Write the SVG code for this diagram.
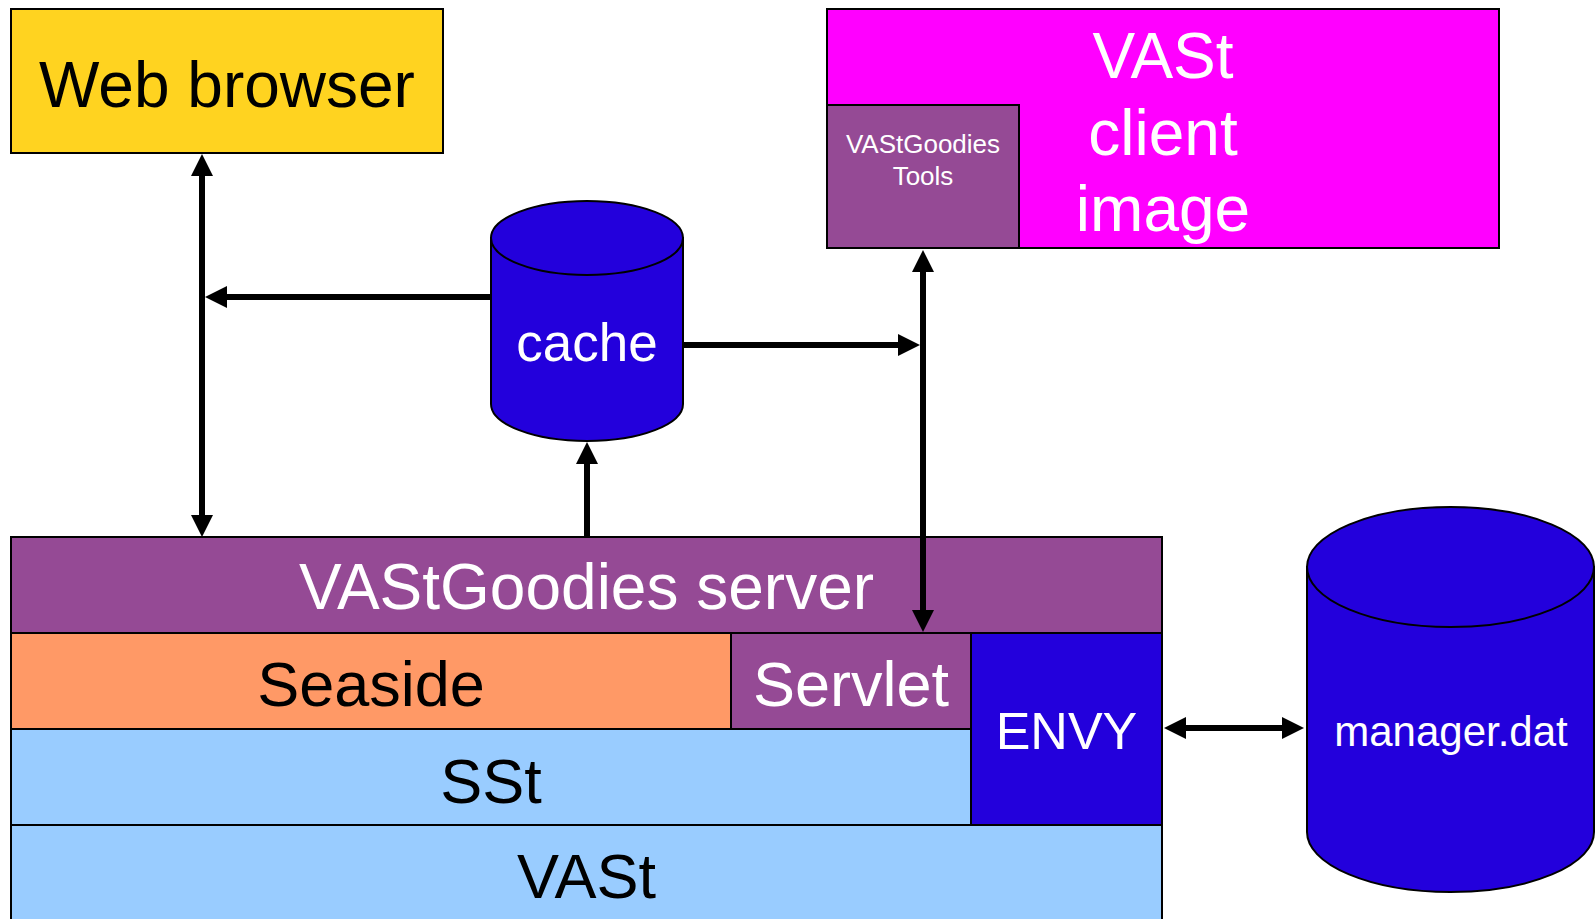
<svg xmlns="http://www.w3.org/2000/svg" width="1595" height="919" viewBox="0 0 1595 919">
<style>
.box{stroke:#000;stroke-width:2}
.cyl{fill:#2300dc;stroke:#000;stroke-width:2}
.t{font-family:"Liberation Sans",Arial,sans-serif;text-anchor:middle}
.w{fill:#fff}
.k{fill:#000}
.conn{stroke:#000;stroke-width:6;fill:none}
</style>
<defs>
<marker id="ah" markerUnits="userSpaceOnUse" markerWidth="22" markerHeight="22" refX="0" refY="11" orient="auto-start-reverse" viewBox="0 0 22 22">
<path d="M0,0 L22,11 L0,22 z" fill="#000"/>
</marker>
</defs>
<rect width="1595" height="919" fill="#fff"/>
<g id="web-browser">
<rect class="box" x="11" y="9" width="432" height="144" fill="#ffd320"/>
<text class="t k" x="227" y="107" font-size="64">Web browser</text>
</g>
<g id="vast-client-image">
<rect class="box" x="827" y="9" width="672" height="239" fill="#ff00ff"/>
<text class="t w" x="1163" y="78" font-size="64">VASt</text>
<text class="t w" x="1163" y="155" font-size="64">client</text>
<text class="t w" x="1163" y="231" font-size="64">image</text>
</g>
<g id="vastgoodies-tools">
<rect class="box" x="827" y="105" width="192" height="143" fill="#954a95"/>
<text class="t w" x="923" y="153" font-size="26">VAStGoodies</text>
<text class="t w" x="923" y="185" font-size="26">Tools</text>
</g>
<g id="cache">
<path class="cyl" d="M491,238 L491,404 A96,37 0 0 0 683,404 L683,238 Z"/>
<ellipse class="cyl" cx="587" cy="238" rx="96" ry="37"/>
<text class="t w" x="587" y="361" font-size="53">cache</text>
</g>
<g id="vastgoodies-server">
<rect class="box" x="11" y="537" width="1151" height="96" fill="#954a95"/>
<text class="t w" x="586.5" y="609" font-size="64">VAStGoodies server</text>
</g>
<g id="seaside">
<rect class="box" x="11" y="633" width="720" height="96" fill="#ff9966"/>
<text class="t k" x="371" y="706" font-size="63">Seaside</text>
</g>
<g id="servlet">
<rect class="box" x="731" y="633" width="240" height="96" fill="#954a95"/>
<text class="t w" x="851" y="706" font-size="63">Servlet</text>
</g>
<g id="envy">
<rect class="box" x="971" y="633" width="191" height="192" fill="#2300dc"/>
<text class="t w" x="1066.5" y="749" font-size="52">ENVY</text>
</g>
<g id="sst">
<rect class="box" x="11" y="729" width="960" height="96" fill="#99ccff"/>
<text class="t k" x="491" y="803" font-size="63">SSt</text>
</g>
<g id="vast">
<rect class="box" x="11" y="825" width="1151" height="110" fill="#99ccff"/>
<text class="t k" x="586.5" y="898" font-size="63">VASt</text>
</g>
<g id="manager-dat">
<path class="cyl" d="M1307,567 L1307,832 A143.5,60 0 0 0 1594,832 L1594,567 Z"/>
<ellipse class="cyl" cx="1450.5" cy="567" rx="143.5" ry="60"/>
<text class="t w" x="1451" y="746" font-size="42">manager.dat</text>
</g>
<g id="connectors">
<line class="conn" x1="202" y1="176" x2="202" y2="515" marker-start="url(#ah)" marker-end="url(#ah)"/>
<line class="conn" x1="491" y1="297" x2="227" y2="297" marker-end="url(#ah)"/>
<line class="conn" x1="587" y1="537" x2="587" y2="464" marker-end="url(#ah)"/>
<line class="conn" x1="683" y1="345" x2="898" y2="345" marker-end="url(#ah)"/>
<line class="conn" x1="923" y1="272" x2="923" y2="610" marker-start="url(#ah)" marker-end="url(#ah)"/>
<line class="conn" x1="1186" y1="728" x2="1282" y2="728" marker-start="url(#ah)" marker-end="url(#ah)"/>
</g>
</svg>
